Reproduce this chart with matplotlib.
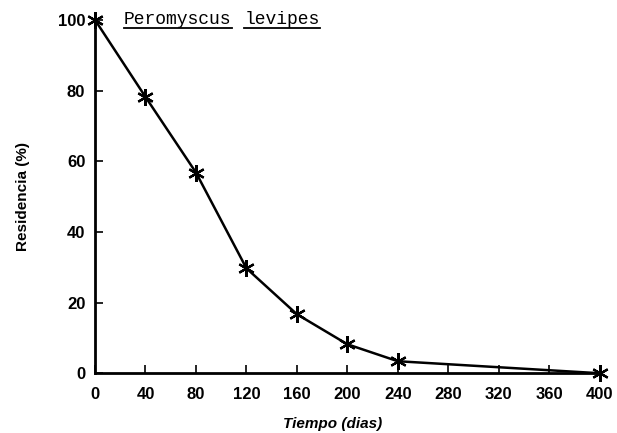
import matplotlib
matplotlib.use("Agg")
import matplotlib.pyplot as plt
from matplotlib.lines import Line2D

# residence over time
tiempo = [0, 40, 80, 120, 160, 200, 240, 400]
residencia = [100, 78.2, 56.8, 29.7, 16.7, 8.2, 3.4, 0]
xticks = [0, 40, 80, 120, 160, 200, 240, 280, 320, 360, 400]
yticks = [0, 20, 40, 60, 80, 100]
especie = ["Peromyscus", "levipes"]

fig = plt.figure(figsize=(6.17, 4.33), dpi=100)
ax = fig.add_axes([0.154, 0.138, 0.818, 0.816])

ax.plot(tiempo, residencia, color="black", lw=1.8,
        marker=(6, 2, 0), markersize=12, markeredgewidth=1.6,
        clip_on=False, zorder=3)

ax.set_xlim(0, 400)
ax.set_ylim(0, 100)
ax.set_xticks(xticks)
ax.set_yticks(yticks)

for side in ("top", "right"):
    ax.spines[side].set_visible(False)
for side in ("left", "bottom"):
    ax.spines[side].set_linewidth(2)

ax.tick_params(direction="in", length=6, width=1.2)
ax.tick_params(axis="x", pad=10)
ax.tick_params(axis="y", pad=7)
for lab in ax.get_xticklabels() + ax.get_yticklabels():
    lab.set_fontfamily("Liberation Sans")
    lab.set_fontweight("bold")
    lab.set_fontsize(12)

ax.set_xlabel("Tiempo (dias)", fontfamily="Liberation Sans", fontstyle="italic",
              fontweight="bold", fontsize=11, labelpad=11)
ax.xaxis.label.set_x(0.47)
ax.set_ylabel("Residencia (%)", fontfamily="Liberation Sans", fontweight="bold",
              fontsize=11, labelpad=20)

# species name, typewriter style, each word underlined
renderer = fig.canvas.get_renderer()
x0 = 23
inv = ax.transData.inverted()
for word in especie:
    t = ax.text(x0, 100, word, fontfamily="Liberation Mono", fontsize=13,
                va="center", ha="left")
    bb = t.get_window_extent(renderer)
    (xa, _), (xb, _) = inv.transform([(bb.x0, bb.y0), (bb.x1, bb.y0)])
    ax.add_line(Line2D([bb.x0, bb.x1], [bb.y0, bb.y0], color="black",
                       lw=1.3, transform=None, clip_on=False))
    # next word starts one space further on
    space = (xb - xa) / len(word)
    x0 = xb + space * 1.2

fig.savefig("out.png", dpi=100)
